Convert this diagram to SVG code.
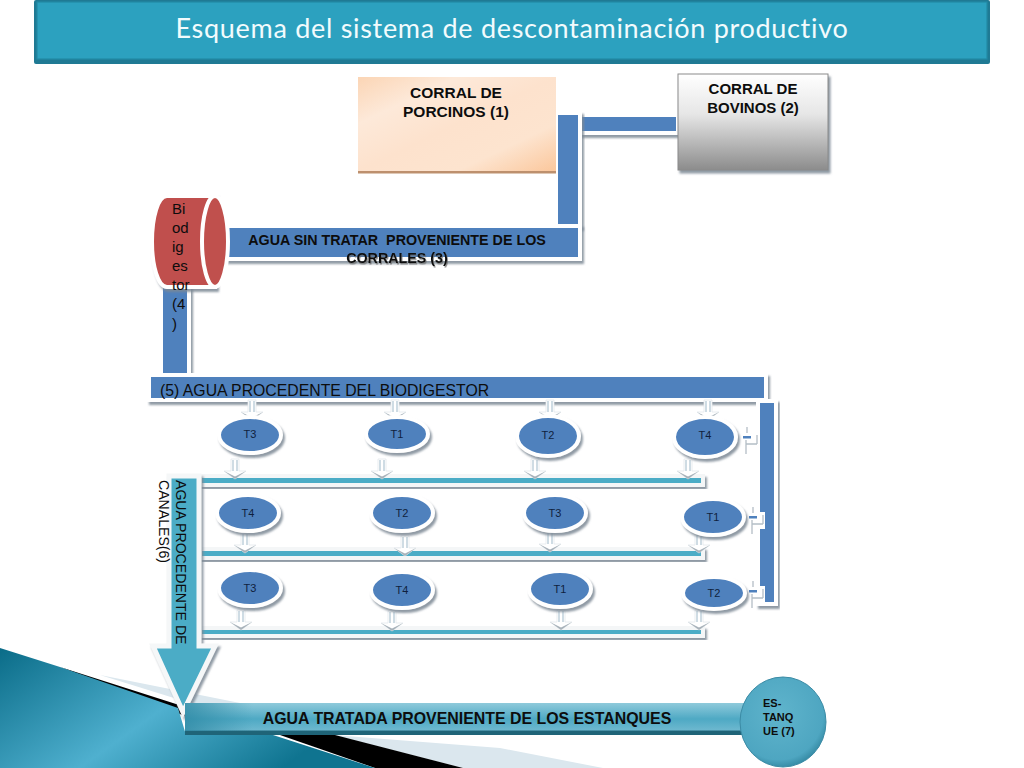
<svg xmlns="http://www.w3.org/2000/svg" xmlns:xlink="http://www.w3.org/1999/xlink" width="1024" height="768" viewBox="0 0 1024 768">
<style>
text{font-family:"Liberation Sans",Arial,sans-serif;fill:#0d0d0d}
.b{font-weight:bold}
.pipe{fill:#4f81bd;stroke:#fff;stroke-width:4;filter:url(#sh)}
.chan{fill:#4bacc6;stroke:#f4f6f7;stroke-width:4;filter:url(#sh)}
.pond{fill:#4f81bd;stroke:#fff;stroke-width:4;filter:url(#sh)}
.t{font-size:11px;text-anchor:middle;fill:#0f1f3d}
.m{text-anchor:middle}
.l15{font-size:15.500px}
.l14{font-size:15px}
</style>
<defs>
<filter id="sh" x="-20%" y="-30%" width="140%" height="170%"><feDropShadow dx="2" dy="3" stdDeviation="0.8" flood-color="#7d8894" flood-opacity="0.85"/></filter>
<filter id="ts" x="-10%" y="-30%" width="120%" height="170%"><feDropShadow dx="1" dy="1.500" stdDeviation="0.6" flood-color="#666" flood-opacity="0.7"/></filter>
<filter id="orange" x="-5%" y="-5%" width="110%" height="112%"><feDropShadow dx="0" dy="2.500" stdDeviation="0.5" flood-color="#b98a66" flood-opacity="0.95"/></filter>
<linearGradient id="g1" x1="0" y1="0" x2="1" y2="1"><stop offset="0" stop-color="#fbd5b5"/><stop offset="0.25" stop-color="#fde9d9"/><stop offset="0.5" stop-color="#fde2cd"/><stop offset="0.75" stop-color="#fde4cf"/><stop offset="1" stop-color="#fbc79c"/></linearGradient>
<linearGradient id="g2" x1="0" y1="0" x2="0" y2="1"><stop offset="0" stop-color="#fff"/><stop offset="0.42" stop-color="#e6e6e6"/><stop offset="1" stop-color="#8c8c8c"/></linearGradient>
<linearGradient id="g3" x1="0" y1="0" x2="0" y2="1"><stop offset="0" stop-color="#8fcadb"/><stop offset="0.5" stop-color="#4ea9c4"/><stop offset="0.85" stop-color="#6db8cf"/><stop offset="0.87" stop-color="#1f6478"/><stop offset="1" stop-color="#1f6478"/></linearGradient>
<linearGradient id="g3x" x1="0" y1="0" x2="1" y2="0"><stop offset="0" stop-color="#2f8aa5" stop-opacity="0.8"/><stop offset="0.12" stop-color="#2f8aa5" stop-opacity="0"/></linearGradient>
<radialGradient id="g4" cx="0.45" cy="0.4" r="0.65"><stop offset="0" stop-color="#5fb4cc"/><stop offset="0.8" stop-color="#4ea6c1"/><stop offset="1" stop-color="#2b7f99"/></radialGradient>
<linearGradient id="g5" x1="0" y1="0" x2="1" y2="0.45"><stop offset="0" stop-color="#0a6c88"/><stop offset="0.55" stop-color="#4fb0cf"/><stop offset="1" stop-color="#0f7490"/></linearGradient>
<g id="dn">
<path d="M-4 -20V-8H-11L0 0L11 -8H4V-20Z" fill="#fff" stroke="#e3e8ec" stroke-width="0.8"/>
<path d="M-2 -19V-8M2 -19V-8" stroke="#9fb9c9" stroke-width="1" fill="none"/>
<path d="M-11 -8L0 0L11 -8L0 -2.500Z" fill="#a8b2ba"/>
</g>
<g id="side">
<path d="M-3 -11H2V-5H12V12H-3Z" fill="#fff"/>
<path d="M0 -10V-4M-1 3V17M-1 7H10M10 -2V7" stroke="#b4bec6" stroke-width="1.300" fill="none"/>
<rect x="-4" y="-1" width="8" height="2.500" fill="#4f81bd"/>
</g>
</defs>
<rect width="1024" height="768" fill="#fff"/>
<g id="background">
<polygon points="100,675 240,703 190,703" fill="#dbe7ee"/>
<polygon points="333,735 500,748 603,768 463,768" fill="#dbe7ee"/>
<polygon points="60,667 176,704 204,703 190,718" fill="#000"/>
<polygon points="280,735 335,735 463,768 375,768" fill="#000"/>
<polygon points="0,648 60,667 178,708 186,735 273,735 375,768 0,768" fill="url(#g5)"/>
</g>
<g id="title">
<rect x="34" y="0" width="956" height="64" rx="2" fill="#1f7a94"/>
<rect x="37" y="2" width="950" height="57" fill="#2ca1bf" stroke="#228aa6" stroke-width="1.200"/>
<text x="512" y="38" text-anchor="middle" font-size="27" letter-spacing="0.7" style="font-family:Lato,'Open Sans',sans-serif;fill:#f2fbfd">Esquema del sistema de descontaminación productivo</text>
</g>
<g id="connectors">
<rect class="pipe" x="580" y="115" width="98" height="18"/>
<rect class="pipe" x="556" y="113" width="24" height="113"/>
<rect class="pipe" x="226" y="226" width="354" height="33"/>
<rect class="pipe" x="161" y="285" width="28" height="90"/>
<rect class="pipe" x="149" y="375" width="617" height="25"/>
<rect class="pipe" x="758" y="401" width="18" height="203"/>
<rect class="chan" x="200" y="476" width="503" height="9"/>
<rect class="chan" x="200" y="549" width="503" height="9"/>
<rect class="chan" x="200" y="628" width="503" height="8"/>
<g id="arrows">
<use xlink:href="#dn" href="#dn" x="252" y="420"/><use xlink:href="#dn" href="#dn" x="395" y="420"/><use xlink:href="#dn" href="#dn" x="550" y="420"/><use xlink:href="#dn" href="#dn" x="708" y="420"/>
<use xlink:href="#dn" href="#dn" x="235" y="479"/><use xlink:href="#dn" href="#dn" x="382" y="479"/><use xlink:href="#dn" href="#dn" x="535" y="479"/><use xlink:href="#dn" href="#dn" x="688" y="479"/>
<use xlink:href="#dn" href="#dn" x="245" y="553"/><use xlink:href="#dn" href="#dn" x="405" y="556"/><use xlink:href="#dn" href="#dn" x="550" y="552"/><use xlink:href="#dn" href="#dn" x="699" y="553"/>
<use xlink:href="#dn" href="#dn" x="241" y="630"/><use xlink:href="#dn" href="#dn" x="392" y="631"/><use xlink:href="#dn" href="#dn" x="561" y="630"/><use xlink:href="#dn" href="#dn" x="699" y="630"/>
<use xlink:href="#side" href="#side" x="747" y="437"/><use xlink:href="#side" href="#side" x="753" y="517"/><use xlink:href="#side" href="#side" x="753" y="591"/>
</g>
</g>
<g id="n1"><rect x="358" y="77" width="198" height="94" fill="url(#g1)" filter="url(#orange)"/>
<text class="b m l15" x="456" y="98">CORRAL DE</text><text class="b m l15" x="456" y="117">PORCINOS (1)</text></g>
<g id="n2"><rect x="678" y="74" width="150" height="96" fill="url(#g2)" stroke="#8a8a8a" stroke-width="1" filter="url(#sh)"/>
<text class="b m l14" x="753" y="94">CORRAL DE</text><text class="b m l14" x="753" y="113">BOVINOS (2)</text></g>
<g id="n3"><text class="b m" font-size="14.300" x="397" y="245" xml:space="preserve" style="white-space:pre">AGUA SIN TRATAR  PROVENIENTE DE LOS</text><text class="b m" font-size="14.300" x="397" y="263" filter="url(#ts)">CORRALES (3)</text></g>
<g id="n4">
<path d="M167 196H215V287H167C158 287 152 266 152 241.500C152 217 158 196 167 196Z" fill="#c0504d" stroke="#fff" stroke-width="4" filter="url(#sh)"/>
<ellipse cx="215" cy="241.500" rx="13" ry="45.500" fill="#c0504d" stroke="#fff" stroke-width="4"/>
<text class="l14" x="172" y="214">Bi</text><text class="l14" x="172" y="233">od</text><text class="l14" x="172" y="252">ig</text><text class="l14" x="172" y="271">es</text><text class="l14" x="172" y="290">tor</text><text class="l14" x="172" y="309">(4</text><text class="l14" x="172" y="329">)</text>
</g>
<g id="n5"><text font-size="15.800" x="160" y="396">(5) AGUA PROCEDENTE DEL BIODIGESTOR</text></g>
<g id="ponds">
<g id="p1"><ellipse class="pond" cx="250" cy="435" rx="31" ry="18"/><text class="t" x="250" y="438">T3</text></g>
<g id="p2"><ellipse class="pond" cx="397" cy="434" rx="31" ry="17"/><text class="t" x="397" y="438">T1</text></g>
<g id="p3"><ellipse class="pond" cx="548" cy="436" rx="31" ry="20"/><text class="t" x="548" y="439">T2</text></g>
<g id="p4"><ellipse class="pond" cx="705" cy="437" rx="31" ry="20"/><text class="t" x="705" y="439">T4</text></g>
<g id="p5"><ellipse class="pond" cx="248" cy="513" rx="31" ry="18"/><text class="t" x="248" y="517">T4</text></g>
<g id="p6"><ellipse class="pond" cx="402" cy="513" rx="31" ry="18"/><text class="t" x="402" y="517">T2</text></g>
<g id="p7"><ellipse class="pond" cx="555" cy="513" rx="31" ry="18"/><text class="t" x="555" y="517">T3</text></g>
<g id="p8"><ellipse class="pond" cx="713" cy="517" rx="31" ry="18"/><text class="t" x="713" y="521">T1</text></g>
<g id="p9"><ellipse class="pond" cx="250" cy="588" rx="31" ry="18"/><text class="t" x="250" y="592">T3</text></g>
<g id="p10"><ellipse class="pond" cx="402" cy="590" rx="31" ry="18"/><text class="t" x="402" y="594">T4</text></g>
<g id="p11"><ellipse class="pond" cx="560" cy="589" rx="31" ry="18"/><text class="t" x="560" y="593">T1</text></g>
<g id="p12"><ellipse class="pond" cx="714" cy="593" rx="31" ry="16"/><text class="t" x="714" y="597">T2</text></g>
</g>
<g id="n6">
<path d="M169 476H199V646H215L183 712L153 646H169Z" fill="#4bacc6" stroke="#f5f7f8" stroke-width="5" filter="url(#sh)"/>
<text font-size="14.100" transform="translate(176 480) rotate(90)">AGUA PROCEDENTE DE</text>
<text font-size="14.100" transform="translate(159 480) rotate(90)">CANALES(6)</text>
</g>
<g id="n8">
<rect x="185" y="703" width="565" height="32" fill="url(#g3)"/>
<rect x="185" y="703" width="565" height="28" fill="url(#g3x)"/>
<text class="b m" font-size="15.900" x="467" y="724">AGUA TRATADA PROVENIENTE DE LOS ESTANQUES</text>
</g>
<g id="n7">
<ellipse cx="783" cy="722" rx="43" ry="45" fill="url(#g4)" stroke="#3b8ba5" stroke-width="1"/>
<text class="b" font-size="11" x="763" y="707">ES-</text><text class="b" font-size="11" x="763" y="721">TANQ</text><text class="b" font-size="11" x="763" y="735">UE (7)</text>
</g>
</svg>
